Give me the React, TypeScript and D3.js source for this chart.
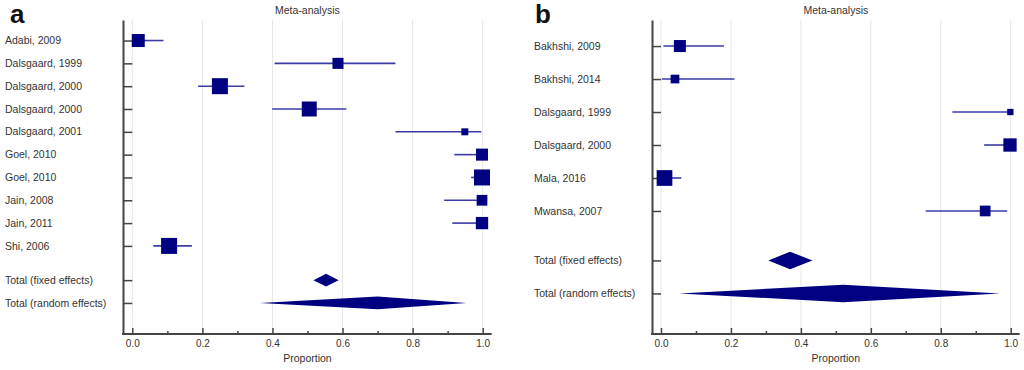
import React, { useEffect, useRef } from "react";
import * as d3 from "d3";

// panel a
const studiesA = [
  "Adabi, 2009",
  "Dalsgaard, 1999",
  "Dalsgaard, 2000",
  "Dalsgaard, 2000",
  "Dalsgaard, 2001",
  "Goel, 2010",
  "Goel, 2010",
  "Jain, 2008",
  "Jain, 2011",
  "Shi, 2006",
];
const estA = [0.017, 0.587, 0.25, 0.505, 0.949, 0.998, 0.998, 0.998, 0.998, 0.105];
const lowA = [0.0, 0.406, 0.188, 0.399, 0.751, 0.919, 0.967, 0.89, 0.913, 0.06];
const highA = [0.089, 0.751, 0.32, 0.611, 0.996, 1.0, 1.0, 1.0, 1.0, 0.17];
const weightA = [9.7, 7.0, 14.7, 12.9, 2.8, 8.3, 14.7, 6.6, 8.7, 14.7];
const fixedA = [0.517, 0.553, 0.589];
const randomA = [0.364, 0.7, 0.954];

// panel b
const studiesB = [
  "Bakhshi, 2009",
  "Bakhshi, 2014",
  "Dalsgaard, 1999",
  "Dalsgaard, 2000",
  "Mala, 2016",
  "Mwansa, 2007",
];
const estB = [0.054, 0.04, 0.999, 0.998, 0.01, 0.927];
const lowB = [0.007, 0.002, 0.833, 0.924, 0.0, 0.757];
const highB = [0.18, 0.21, 1.0, 1.0, 0.058, 0.99];
const weightB = [18.1, 9.5, 5.0, 22.2, 30.9, 14.4];
const fixedB = [0.307, 0.369, 0.433];
const randomB = [0.052, 0.521, 0.969];

const totalLabels = ["Total (fixed effects)", "Total (random effects)"];
const xTicks = [0, 0.2, 0.4, 0.6, 0.8, 1.0];
const xMinorTicks = [0.1, 0.3, 0.5, 0.7, 0.9];

const FONT = "'Liberation Sans', Arial, sans-serif";
const NAVY = "#000080";
const TOP = 20;
const BOTTOM = 334;

function drawPanel(root, d, layout) {
  const g = root.append("g");
  const n = d.studies.length;
  const x = d3.scaleLinear().domain([0, 1]).range(layout.xRange);
  const y = d3.scaleLinear().domain(layout.yDomain).range([TOP, BOTTOM]);
  const side = d3.scaleSqrt().domain([0, d3.max(d.weight)]).range([0, layout.maxSide]);
  const rows = d3.range(n).concat([n + 0.5, n + 1.5]);
  const labels = d.studies.concat(totalLabels);

  g.append("text")
    .attr("x", layout.letterX)
    .attr("y", layout.letterY)
    .attr("font-size", 26)
    .attr("font-weight", "bold")
    .attr("fill", "#111")
    .text(layout.letter);

  g.append("text")
    .attr("x", (layout.axisX + x(1) + 9) / 2)
    .attr("y", 13.5)
    .attr("text-anchor", "middle")
    .attr("font-size", 10.5)
    .attr("fill", "#333")
    .text("Meta-analysis");

  // grid
  g.selectAll(".grid")
    .data(xTicks)
    .enter()
    .append("line")
    .attr("x1", v => x(v))
    .attr("x2", v => x(v))
    .attr("y1", TOP)
    .attr("y2", BOTTOM)
    .attr("stroke", "#e6e6e6")
    .attr("stroke-width", 1);

  // row labels
  g.selectAll(".lab")
    .data(labels)
    .enter()
    .append("text")
    .attr("x", layout.labelX)
    .attr("y", (t, i) => y(rows[i]))
    .attr("dy", "0.35em")
    .attr("font-size", 10.5)
    .attr("fill", "#333")
    .text(t => t);

  // left axis
  const yAxis = g.append("g")
    .attr("transform", `translate(${layout.axisX},0)`)
    .call(d3.axisRight(y).tickValues(rows).tickSize(x(0) - layout.axisX).tickSizeOuter(0).tickFormat(() => ""));
  yAxis.select(".domain").attr("stroke", "#444").attr("stroke-width", 2);
  yAxis.selectAll(".tick line").attr("stroke", "#444").attr("stroke-width", 1.5);

  // bottom axis
  const xAxis = g.append("g")
    .attr("transform", `translate(0,${BOTTOM})`)
    .call(d3.axisBottom(x).tickValues(xTicks).tickSize(-6).tickPadding(6).tickFormat(d3.format(".1f")));
  xAxis.select(".domain").remove();
  xAxis.selectAll(".tick line").attr("stroke", "#444").attr("stroke-width", 1.5);
  xAxis.selectAll("text").attr("font-size", 10).attr("font-family", FONT).attr("fill", "#333");

  const xMinor = g.append("g")
    .attr("transform", `translate(0,${BOTTOM})`)
    .call(d3.axisBottom(x).tickValues(xMinorTicks).tickSize(-3).tickFormat(() => ""));
  xMinor.select(".domain").remove();
  xMinor.selectAll(".tick line").attr("stroke", "#444").attr("stroke-width", 1.5);

  g.append("line")
    .attr("x1", layout.axisX - 1)
    .attr("x2", x(1) + 9)
    .attr("y1", BOTTOM)
    .attr("y2", BOTTOM)
    .attr("stroke", "#444")
    .attr("stroke-width", 2);

  g.append("text")
    .attr("x", x(0.5))
    .attr("y", 362)
    .attr("text-anchor", "middle")
    .attr("font-size", 10.5)
    .attr("fill", "#333")
    .text("Proportion");

  // confidence intervals
  g.selectAll(".ci")
    .data(d.est)
    .enter()
    .append("line")
    .attr("x1", (e, i) => x(d.low[i]))
    .attr("x2", (e, i) => x(d.high[i]))
    .attr("y1", (e, i) => y(i))
    .attr("y2", (e, i) => y(i))
    .attr("stroke", "#3b3ba6")
    .attr("stroke-width", 1.6);

  // study squares
  g.selectAll(".sq")
    .data(d.est)
    .enter()
    .append("rect")
    .attr("x", (e, i) => x(e) - side(d.weight[i]) / 2)
    .attr("y", (e, i) => y(i) - side(d.weight[i]) / 2)
    .attr("width", (e, i) => side(d.weight[i]))
    .attr("height", (e, i) => side(d.weight[i]))
    .attr("fill", NAVY);

  // pooled diamonds
  const h = layout.diamondH / 2;
  [d.fixed, d.random].forEach((t, k) => {
    const cy = y(n + 0.5 + k);
    g.append("path")
      .attr("d", `M${x(t[0])},${cy}L${x(t[1])},${cy - h}L${x(t[2])},${cy}L${x(t[1])},${cy + h}Z`)
      .attr("fill", NAVY);
  });
}

export default function App() {
  const rootNode = useRef(null);

  useEffect(() => {
    const svg = d3.select(rootNode.current);
    svg.selectAll("*").remove();
    svg.append("rect").attr("width", 1024).attr("height", 370).attr("fill", "#fff");

    drawPanel(
      svg,
      { studies: studiesA, est: estA, low: lowA, high: highA, weight: weightA, fixed: fixedA, random: randomA },
      { letter: "a", letterX: 10, letterY: 23, labelX: 5, axisX: 123, xRange: [132.3, 482.7], yDomain: [-0.9, 12.86], diamondH: 12.7, maxSide: 16 }
    );
    drawPanel(
      svg,
      { studies: studiesB, est: estB, low: lowB, high: highB, weight: weightB, fixed: fixedB, random: randomB },
      { letter: "b", letterX: 535, letterY: 23, labelX: 534, axisX: 652, xRange: [661, 1010.7], yDomain: [-0.79, 8.73], diamondH: 17.5, maxSide: 15.7 }
    );
  }, []);

  return (
    <svg
      ref={rootNode}
      width={1024}
      height={370}
      style={{ position: "absolute", left: 0, top: 0, fontFamily: FONT }}
    />
  );
}
